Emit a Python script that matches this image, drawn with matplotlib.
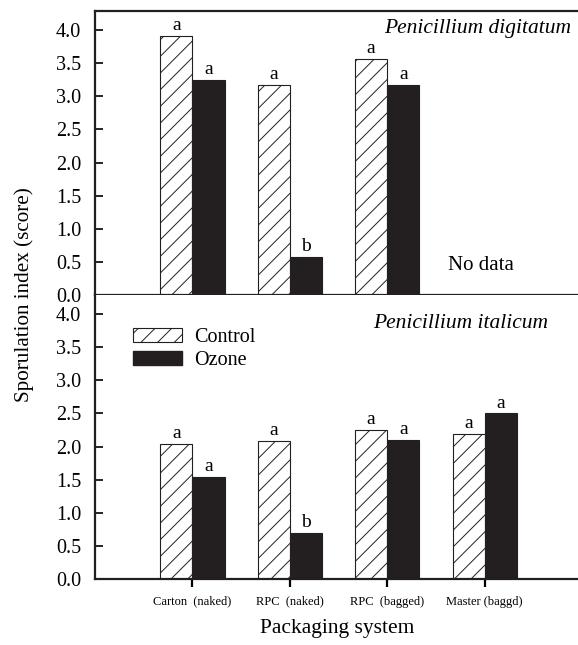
import matplotlib
matplotlib.use("Agg")
import matplotlib.pyplot as plt
import numpy as np
from matplotlib.patches import Patch

plt.rcParams['font.family'] = ['Liberation Serif', 'DejaVu Serif']
plt.rcParams['hatch.linewidth'] = 0.7

categories = ["Carton  (naked)", "RPC  (naked)", "RPC  (bagged)", "Master (baggd)"]
# Penicillium digitatum (no data for Master)
dig_control = [3.91, 3.17, 3.56, np.nan]
dig_ozone = [3.25, 0.57, 3.17, np.nan]
dig_ctrl_letters = ["a", "a", "a", ""]
dig_oz_letters = ["a", "b", "a", ""]
# Penicillium italicum
ita_control = [2.04, 2.09, 2.25, 2.19]
ita_ozone = [1.54, 0.69, 2.10, 2.50]
ita_ctrl_letters = ["a", "a", "a", "a"]
ita_oz_letters = ["a", "b", "a", "a"]
yticks = [0.0, 0.5, 1.0, 1.5, 2.0, 2.5, 3.0, 3.5, 4.0]

W, H = 578, 645
fig = plt.figure(figsize=(W/100, H/100), dpi=100)
left = 95/W
width = (W-95)/W + 0.002
ax1 = fig.add_axes([left, (H-295)/H, width, 284/H])
ax2 = fig.add_axes([left, (H-579)/H, width, 284/H])

dark = '#231f20'
bw = 0.33
x = np.arange(1, len(categories)+1)

def draw(ax, ctrl, oz, lc, lo):
    c = np.array(ctrl, dtype=float)
    o = np.array(oz, dtype=float)
    mc = ~np.isnan(c)
    mo = ~np.isnan(o)
    ax.bar(x[mc]-bw/2, c[mc], width=bw, facecolor='white', edgecolor=dark,
           hatch='//', linewidth=0.8)
    ax.bar(x[mo]+bw/2, o[mo], width=bw, facecolor=dark, edgecolor=dark, linewidth=0.8)
    for xi, v, t in zip(x, c, lc):
        if not np.isnan(v):
            ax.text(xi-bw/2, v+0.03, t, ha='center', va='bottom', fontsize=14)
    for xi, v, t in zip(x, o, lo):
        if not np.isnan(v):
            ax.text(xi+bw/2, v+0.03, t, ha='center', va='bottom', fontsize=14)
    ax.set_xlim(0, 4.97)
    ax.set_ylim(0, 4.29)
    ax.set_yticks(yticks)
    ax.set_yticklabels([f"{v:.1f}" for v in yticks], fontsize=14.5)
    ax.tick_params(axis='y', direction='in', length=6, width=1.2, pad=10)
    for s in ['left', 'bottom', 'top']:
        ax.spines[s].set_linewidth(1.6)
        ax.spines[s].set_color(dark)
    ax.spines['right'].set_visible(False)

draw(ax1, dig_control, dig_ozone, dig_ctrl_letters, dig_oz_letters)
draw(ax2, ita_control, ita_ozone, ita_ctrl_letters, ita_oz_letters)

ax1.set_xticks([])
ax1.text(0.983, 0.94, "Penicillium digitatum", transform=ax1.transAxes,
         ha='right', va='center', fontsize=15.5, style='italic')
ax1.text(3.96, 0.45, "No data", ha='center', va='center', fontsize=15)

ax2.spines['top'].set_visible(False)
ax2.text(0.756, 0.90, "Penicillium italicum", transform=ax2.transAxes,
         ha='center', va='center', fontsize=15.5, style='italic')
ax2.set_xticks(x)
ax2.set_xticklabels(categories, fontsize=9)
ax2.tick_params(axis='x', direction='out', length=6, width=1.6, pad=6)
ax2.set_xlabel("Packaging system", fontsize=15.5, labelpad=8)

leg = ax2.legend(handles=[Patch(facecolor='white', edgecolor=dark, hatch='//', linewidth=0.8),
                          Patch(facecolor=dark, edgecolor=dark)],
                 labels=["Control", "Ozone"], loc='upper left',
                 bbox_to_anchor=(0.058, 0.921), frameon=False, fontsize=14.5,
                 handlelength=2.45, handleheight=0.7, handletextpad=0.6,
                 labelspacing=0.2, borderpad=0)

fig.text(24/W, 1-295/H, "Sporulation index (score)", rotation=90, ha='center',
         va='center', fontsize=15.2)

fig.savefig("out.png", dpi=100)
